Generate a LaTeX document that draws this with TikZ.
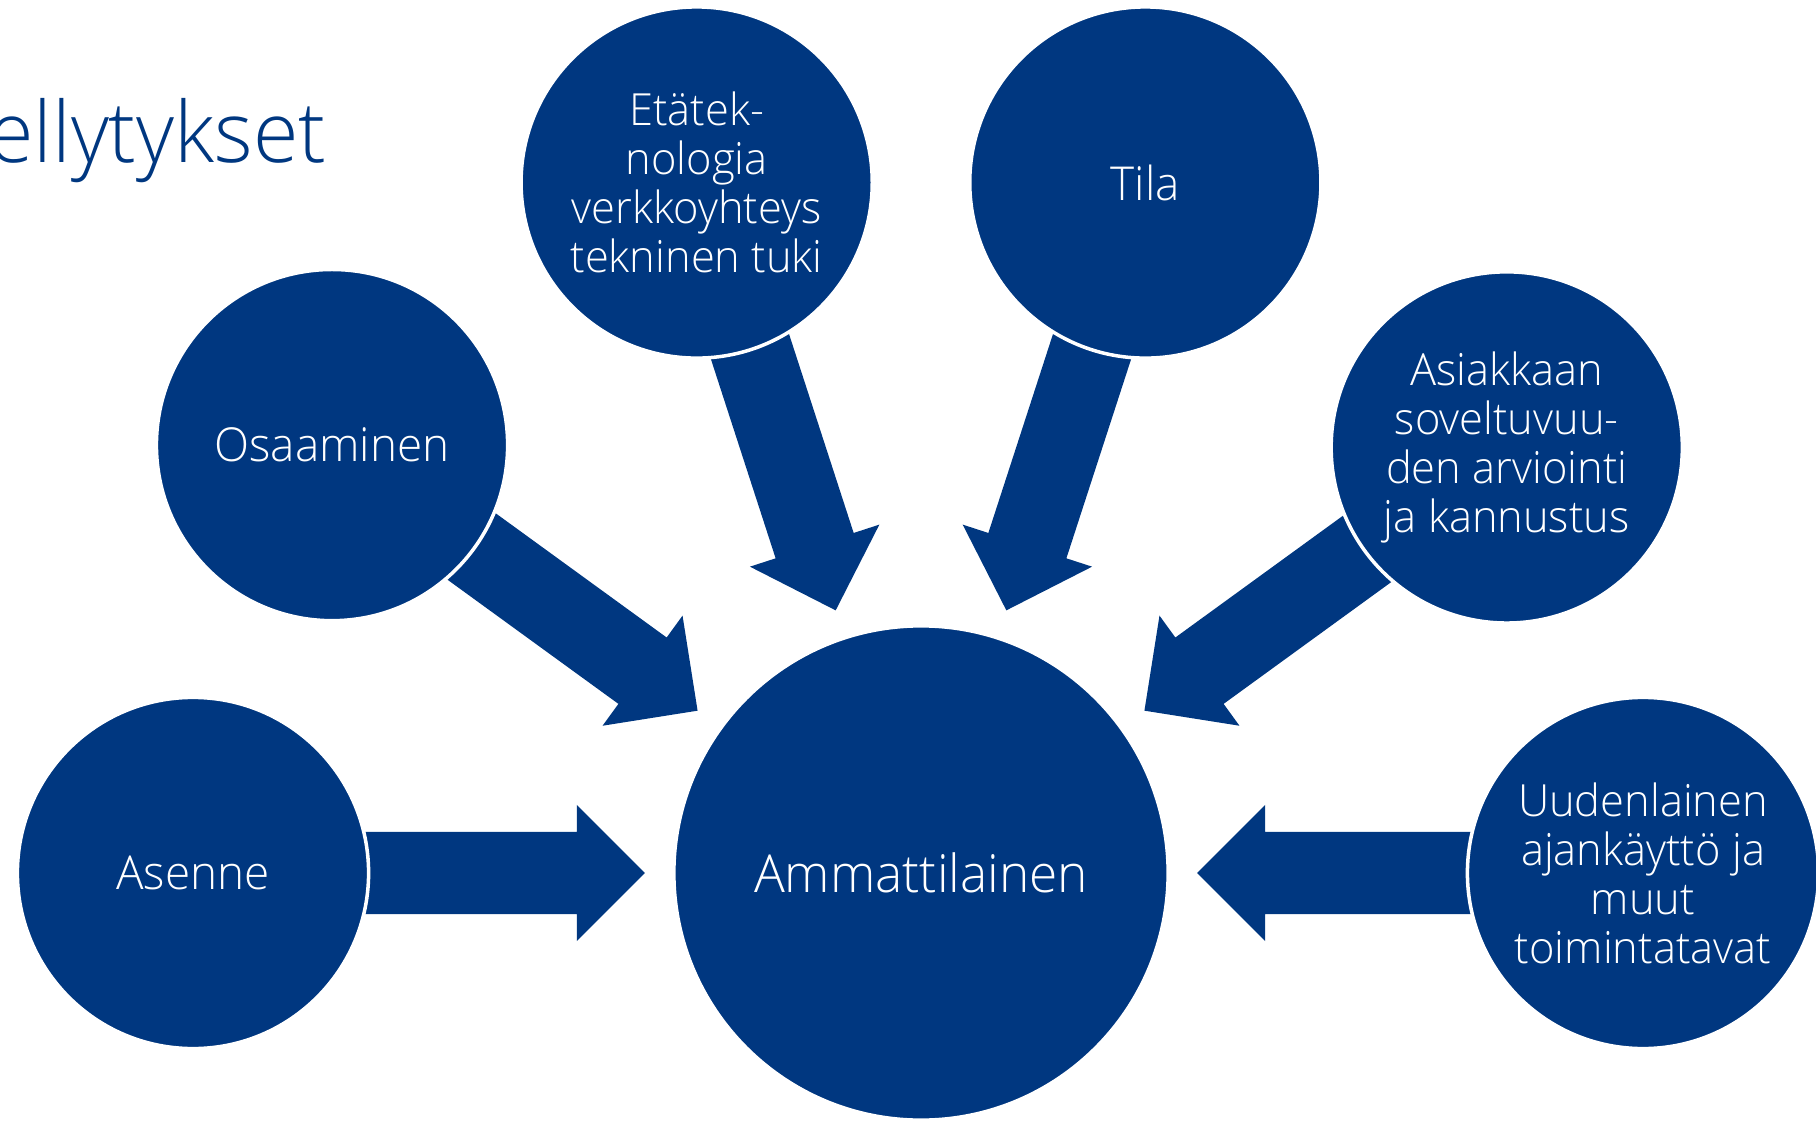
\documentclass[tikz,border=0pt]{standalone}
\usepackage{fontspec}
\setmainfont{Open Sans Light}[FakeStretch=0.98]
\usepackage{tikz}
\usetikzlibrary{calc,backgrounds}
\definecolor{slideblue}{RGB}{0,55,128}
\tikzset{
  ball/.style={circle,fill=slideblue,draw=white,line width=1pt,text=white,align=center,
    inner sep=0pt,minimum size=3.51cm,font=\fontsize{13.3}{13.95}\selectfont},
  smalltext/.style={font=\fontsize{12.6}{13.95}\selectfont},
  bigball/.style={ball,minimum size=4.94cm,font=\fontsize{14.9}{18}\selectfont},
  fatarrow/.style={fill=slideblue}
}

\begin{document}
\begin{tikzpicture}[x=0.01cm,y=0.01cm]
\useasboundingbox (0,0) rectangle (1816,1121);
\node[anchor=base east,text=slideblue,inner sep=0pt,font=\fontsize{24}{28}\selectfont] (title) at (327,958) {ellytykset};
\node[bigball] (amm) at (921,248) {Ammattilainen};
\node[ball] (asenne) at ($(amm)+(180:728)$) {Asenne};
\node[ball] (osaaminen) at ($(amm)+(144:728)$) {Osaaminen};
\node[ball,smalltext] (etatek) at ($(amm)+(108:726)$) {Etätek-\\nologia\\verkkoyhteys\\tekninen tuki};
\node[ball] (tila) at ($(amm)+(72:726)$) {Tila};
\node[ball,smalltext] (asiakas) at ($(amm)+(36:724)$) {Asiakkaan\\soveltuvuu-\\den arviointi\\ja kannustus};
\node[ball,smalltext] (uusi) at ($(amm)+(0:722)$) {Uudenlainen\\ajankäyttö ja\\muut\\toimintatavat};
\begin{scope}[on background layer]
\foreach \n in {asenne,osaaminen,etatek,tila,asiakas,uusi}{
  \fill[fatarrow] ($(amm)!2.76cm!(\n)$)
    -- ($(amm)!3.44cm!(\n)!0.68cm!90:(\n)$)
    -- ($(amm)!3.44cm!(\n)!0.41cm!90:(\n)$)
    -- ($(amm)!5.78cm!(\n)!0.41cm!90:(\n)$)
    -- ($(amm)!5.78cm!(\n)!0.41cm!-90:(\n)$)
    -- ($(amm)!3.44cm!(\n)!0.41cm!-90:(\n)$)
    -- ($(amm)!3.44cm!(\n)!0.68cm!-90:(\n)$) -- cycle;
}
\end{scope}
\end{tikzpicture}
\end{document}
